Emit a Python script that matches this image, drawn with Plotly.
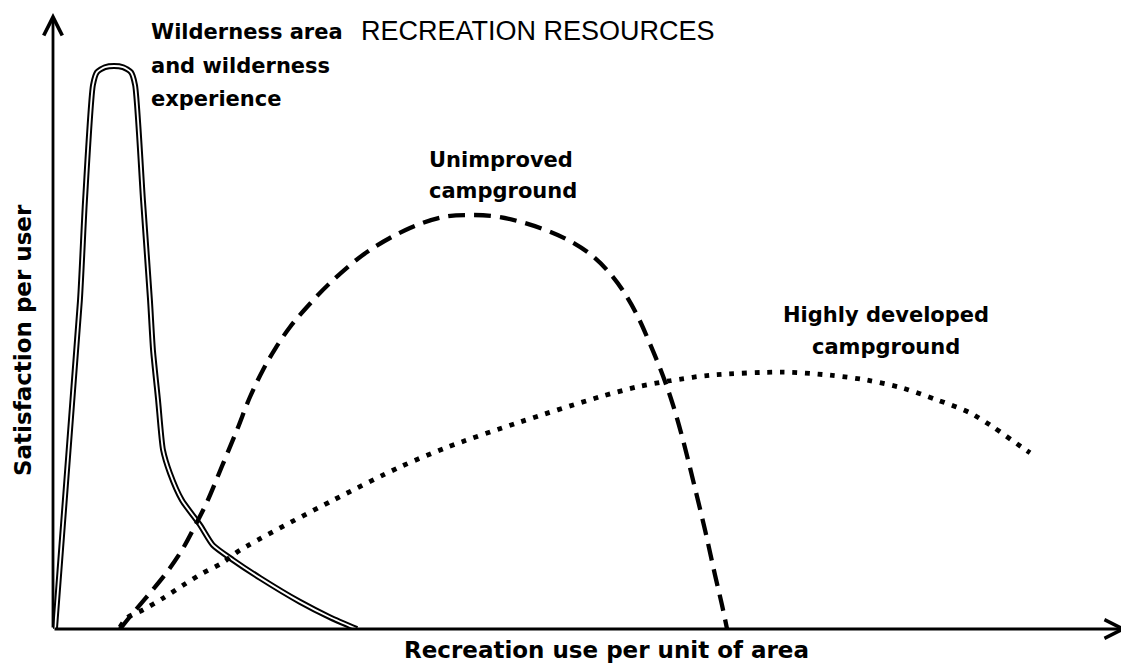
import plotly.graph_objects as go

# ---- data (x = recreation use, y = satisfaction; 0..100 scales)
wild_x = [0.19, 2.51, 2.98, 3.72, 4.10, 4.84, 5.68, 6.52, 7.26, 7.64, 8.38, 9.03, 9.31, 9.78,
          10.24, 10.89, 12.01, 13.69, 14.90, 16.76, 19.27, 23.0, 25.8, 28.3]
wild_y = [0.0, 53.4, 69.6, 88.3, 90.4, 91.2, 91.4, 91.2, 90.4, 88.3, 69.6, 53.4, 45.3, 37.2,
          29.1, 25.3, 20.9, 16.9, 13.6, 11.2, 8.3, 4.4, 1.9, 0.0]

unimp_x = [6.24, 7.45, 9.03, 10.61, 12.01, 13.22, 14.34, 15.74, 17.13, 18.34, 19.55, 20.67,
           22.07, 23.65, 25.79, 29.24, 33.24, 36.31, 38.83, 41.62, 45.62, 48.14, 50.0, 51.58,
           53.03, 54.38, 55.59, 56.80, 57.73, 58.66, 59.59, 60.71, 61.64, 62.29, 62.76]
unimp_y = [0.0, 2.60, 5.84, 9.25, 12.82, 16.72, 20.62, 26.46, 32.31, 37.66, 42.05, 45.45,
           49.03, 52.27, 56.17, 61.20, 65.10, 66.88, 67.21, 66.88, 64.94, 62.99, 60.88, 58.28,
           55.03, 50.97, 46.27, 41.07, 36.36, 30.68, 24.19, 16.07, 8.77, 3.90, 0.0]

dev_x = [6.24, 6.89, 8.38, 10.24, 12.10, 13.97, 15.74, 17.41, 26.07, 32.31, 36.69, 43.48,
         50.93, 54.38, 57.45, 61.17, 67.97, 72.35, 75.79, 79.14, 82.31, 85.38, 87.52, 90.22, 90.97]
dev_y = [0.3, 1.8, 3.1, 5.0, 7.1, 9.1, 10.7, 12.8, 20.9, 26.3, 29.5, 33.6,
         37.7, 39.3, 40.3, 41.2, 41.7, 41.2, 40.4, 39.1, 37.2, 35.1, 32.8, 29.5, 28.6]

title_text = "RECREATION RESOURCES"
x_title = "Recreation use per unit of area"
y_title = "Satisfaction per user"
wild_label = ["Wilderness area", "and wilderness", "experience"]
unimp_label = ["Unimproved", "campground"]
dev_label = ["Highly developed", "campground"]

W, H = 1129, 663
OFF = 8  # page body margin in the browser
# plot frame on screen: origin (53, 629), top 13, right 1127
L, T = 53 - OFF, 13 - OFF
B = H - (629 - OFF)
R = W - (1127 - OFF)

fig = go.Figure()
# wilderness: double (outlined) line
fig.add_trace(go.Scatter(x=wild_x, y=wild_y, mode="lines",
                         line=dict(color="black", width=5.8, shape="spline", smoothing=0.6),
                         hoverinfo="skip"))
fig.add_trace(go.Scatter(x=wild_x, y=wild_y, mode="lines",
                         line=dict(color="white", width=1.8, shape="spline", smoothing=0.6),
                         hoverinfo="skip"))
# unimproved campground: dashed
fig.add_trace(go.Scatter(x=unimp_x, y=unimp_y, mode="lines",
                         line=dict(color="black", width=4.3, dash="17px,9px", shape="spline",
                                   smoothing=1.0), hoverinfo="skip"))
# highly developed campground: dotted
fig.add_trace(go.Scatter(x=dev_x, y=dev_y, mode="lines",
                         line=dict(color="black", width=4.8, dash="4.8px,7.8px", shape="spline",
                                   smoothing=0.8), hoverinfo="skip"))

ann = []
# axes with arrows
ann.append(dict(x=0, y=100, ax=0, ay=0, xref="x", yref="y", axref="x", ayref="y", text="",
                showarrow=True, arrowhead=5, arrowsize=1.3, arrowwidth=2.8, arrowcolor="black"))
ann.append(dict(x=100, y=0, ax=0, ay=0, xref="x", yref="y", axref="x", ayref="y", text="",
                showarrow=True, arrowhead=5, arrowsize=1.3, arrowwidth=2.8, arrowcolor="black"))

lab_font = dict(family="DejaVu Sans", size=21, color="black")
axis_font = dict(family="DejaVu Sans", size=23, color="black")


def px2paper(sx, sy):
    # screen pixel -> paper coordinates
    return (sx - 53) / (1127 - 53), (629 - sy) / (629 - 13)


def add_text(txt, px, py, xanchor="left", yanchor="middle", font=lab_font, bold=True, angle=0):
    x, y = px2paper(px, py)
    ann.append(dict(x=x, y=y, xref="paper", yref="paper", text=("<b>%s</b>" % txt) if bold else txt,
                    showarrow=False, xanchor=xanchor, yanchor=yanchor, font=font,
                    textangle=angle, borderpad=0))


add_text(title_text, 360, 31, font=dict(family="Liberation Sans", size=27, color="black"), bold=False)
for t, py in zip(wild_label, [32, 66, 99]):
    add_text(t, 150, py)
for t, py in zip(unimp_label, [160, 191]):
    add_text(t, 428, py)
for t, py in zip(dev_label, [315, 347]):
    add_text(t, 886, py, xanchor="center")
add_text(x_title, 606, 664, xanchor="center", yanchor="bottom", font=axis_font)
add_text(y_title, 23, 340, xanchor="center", angle=-90, font=axis_font)

fig.update_layout(
    width=W, height=H, margin=dict(l=L, r=R, t=T, b=B),
    paper_bgcolor="white", plot_bgcolor="white", showlegend=False,
    xaxis=dict(range=[0, 100], visible=False, showgrid=False, zeroline=False),
    yaxis=dict(range=[0, 100], visible=False, showgrid=False, zeroline=False),
    annotations=ann,
)
fig.write_html("out.html")
